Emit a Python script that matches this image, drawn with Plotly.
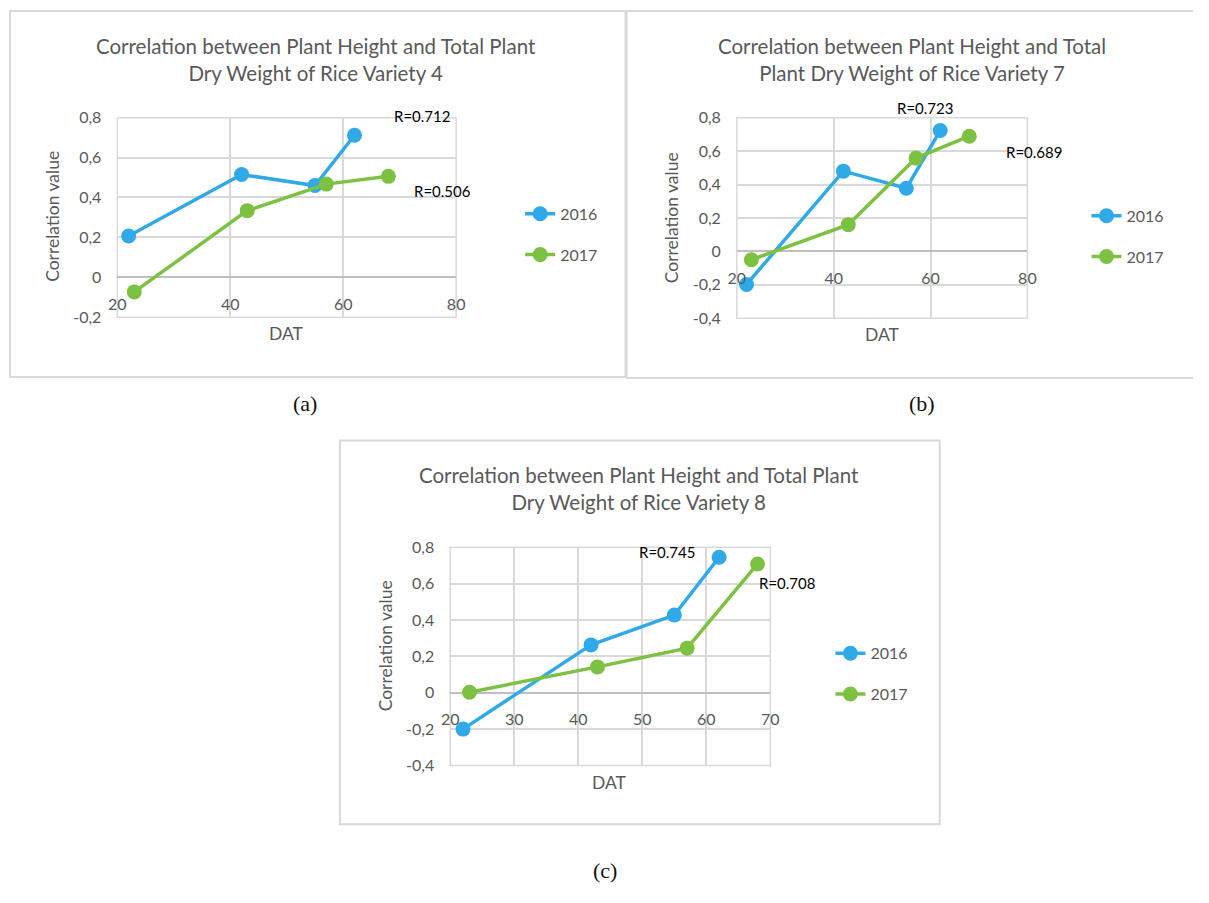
import plotly.graph_objects as go

# Page is 1209 x 903; the browser keeps its default 8px body margin around the figure
PAGE_W, PAGE_H = 1209, 903
PAD = 8
W, H = PAGE_W - 2 * PAD, PAGE_H - 2 * PAD

# Days after transplanting (DAT) sampled in each season
dat_2016 = [22, 42, 55, 62]
dat_2017 = [23, 43, 57, 68]

# Correlation between plant height and total plant dry weight
v4_2016 = [0.207, 0.515, 0.460, 0.712]
v4_2017 = [-0.073, 0.334, 0.467, 0.506]
v7_2016 = [-0.198, 0.480, 0.378, 0.723]
v7_2017 = [-0.050, 0.160, 0.558, 0.689]
v8_2016 = [-0.200, 0.263, 0.427, 0.745]
v8_2017 = [0.003, 0.142, 0.245, 0.708]

series_names = ["2016", "2017"]

titles = [
    "Correlation between Plant Height and Total Plant<br>Dry Weight of Rice Variety 4",
    "Correlation between Plant Height and Total<br>Plant Dry Weight of Rice Variety 7",
    "Correlation between Plant Height and Total Plant<br>Dry Weight of Rice Variety 8",
]
captions = ["(a)", "(b)", "(c)"]

x_ticks_ab = [20, 40, 60, 80]
x_ticks_c = [20, 30, 40, 50, 60, 70]
y_ticks_a = [-0.2, 0, 0.2, 0.4, 0.6, 0.8]
y_text_a = ["-0,2", "0", "0,2", "0,4", "0,6", "0,8"]
y_ticks_bc = [-0.4, -0.2, 0, 0.2, 0.4, 0.6, 0.8]
y_text_bc = ["-0,4", "-0,2", "0", "0,2", "0,4", "0,6", "0,8"]

BLUE = "#2FA9E8"
GREEN = "#7DC143"
GRID = "#d9d9d9"
TEXT = "#595959"
FONT = "Lato, 'Open Sans', sans-serif"
SERIF = "'Liberation Serif', 'DejaVu Serif', serif"


def fx(px):
    """Page x pixel -> paper fraction."""
    return (px - PAD) / W


def fy(py):
    """Page y pixel -> paper fraction."""
    return 1 - (py - PAD) / H


# Page-pixel layout of each panel: plot area, frame, title centre, caption, legend, labels
panels = [
    dict(values=(v4_2016, v4_2017), xr=[20, 80], xt=x_ticks_ab, yr=[-0.2, 0.8],
         yt=y_ticks_a, ytt=y_text_a, plot=(118, 462, 118, 322), frame=(9, 634, 9, 383),
         title=(320, 59), cap=(309, 410), ytitle=(52, 219), xtitle=(290, 339),
         legend=(527, 199), rshift=[(67, 19), (54, -15)]),
    dict(values=(v7_2016, v7_2017), xr=[20, 80], xt=x_ticks_ab, yr=[-0.4, 0.8],
         yt=y_ticks_bc, ytt=y_text_bc, plot=(747, 1042, 118, 323), frame=(635, 1216, 9, 384),
         title=(925, 59), cap=(935, 410), ytitle=(681, 220), xtitle=(895, 340),
         legend=(1102, 201), rshift=[(-15, 23), (65, -16)]),
    dict(values=(v8_2016, v8_2017), xr=[20, 70], xt=x_ticks_c, yr=[-0.4, 0.8],
         yt=y_ticks_bc, ytt=y_text_bc, plot=(456, 781, 557, 780), frame=(344, 953, 448, 840),
         title=(648, 497), cap=(613, 887), ytitle=(390, 658), xtitle=(618, 797),
         legend=(842, 648), rshift=[(-52, 5), (29, -19)]),
]

fig = go.Figure()
layout = dict(
    width=W, height=H, margin=dict(l=0, r=0, t=0, b=0),
    paper_bgcolor="white", plot_bgcolor="white",
    font=dict(family=FONT, color=TEXT, size=14),
    separators=",.",
    annotations=[], shapes=[],
)


def paper_text(x, y, text, size, color=TEXT, family=FONT, angle=0):
    return dict(
        x=fx(x), y=fy(y), xref="paper", yref="paper", text=text, showarrow=False,
        xanchor="center", yanchor="middle", textangle=angle, align="center",
        font=dict(size=size, color=color, family=family),
    )


for i, p in enumerate(panels, start=1):
    sfx = "" if i == 1 else str(i)
    xa, ya = "x" + sfx, "y" + sfx
    leg = "legend" + sfx
    x0, x1, y0, y1 = p["plot"]
    ymin, ymax = p["yr"]
    # x axis labels sit just under the zero line of the value axis
    zero_frac = fy(y1) + (0 - ymin) / (ymax - ymin) * (fy(y0) - fy(y1))
    layout["xaxis" + sfx] = dict(
        domain=[fx(x0), fx(x1)], range=p["xr"], tickvals=p["xt"], anchor="free",
        position=zero_frac - 16 / H, showgrid=True, gridcolor=GRID, gridwidth=1.5,
        zeroline=False, showline=False, ticks="", tickfont=dict(size=16, color=TEXT),
    )
    layout["yaxis" + sfx] = dict(
        domain=[fy(y1), fy(y0)], range=p["yr"], tickvals=p["yt"], ticktext=p["ytt"],
        anchor=xa, showgrid=True, gridcolor=GRID, gridwidth=1.5, zeroline=True,
        zerolinecolor="#bfbfbf", zerolinewidth=1.5, showline=False, ticks="",
        ticklabelstandoff=15, tickfont=dict(size=16, color=TEXT),
    )
    lx, ly = p["legend"]
    layout[leg] = dict(
        x=fx(lx), y=fy(ly), xanchor="left", yanchor="top", bgcolor="rgba(0,0,0,0)",
        font=dict(size=16, color=TEXT), tracegroupgap=17, itemwidth=30,
    )

    for dat, vals, name, color, (dx, dy) in zip(
        (dat_2016, dat_2017), p["values"], series_names, (BLUE, GREEN), p["rshift"]
    ):
        fig.add_trace(go.Scatter(
            x=dat, y=vals, name=name, mode="lines+markers", xaxis=xa, yaxis=ya,
            legend=leg, legendgroup=f"{i}-{name}",
            line=dict(color=color, width=3.5), marker=dict(color=color, size=15),
        ))
        layout["annotations"].append(dict(
            x=dat[-1], y=vals[-1], xref=xa, yref=ya, text=f"R={vals[-1]:.3f}",
            showarrow=False, xshift=dx, yshift=dy, xanchor="center", yanchor="middle",
            font=dict(size=15, color="#000000", family=FONT),
        ))

    # plot area outline
    layout["shapes"].append(dict(
        type="rect", xref=xa + " domain", yref=ya + " domain", x0=0, x1=1, y0=0, y1=1,
        line=dict(color=GRID, width=1.5), layer="below",
    ))
    # chart frame
    fx0, fx1, fy0, fy1 = p["frame"]
    layout["shapes"].append(dict(
        type="rect", xref="paper", yref="paper", x0=fx(fx0), x1=fx(fx1), y0=fy(fy1), y1=fy(fy0),
        line=dict(color="#d9d9d9", width=2),
    ))

    layout["annotations"].append(paper_text(*p["title"], titles[i - 1], 20.5))
    layout["annotations"].append(paper_text(*p["cap"], captions[i - 1], 22, "#111111", SERIF))
    layout["annotations"].append(paper_text(*p["ytitle"], "Correlation value", 17.5, angle=-90))
    layout["annotations"].append(paper_text(*p["xtitle"], "DAT", 17.5))

fig.update_layout(**layout)
fig.write_html("out.html")
